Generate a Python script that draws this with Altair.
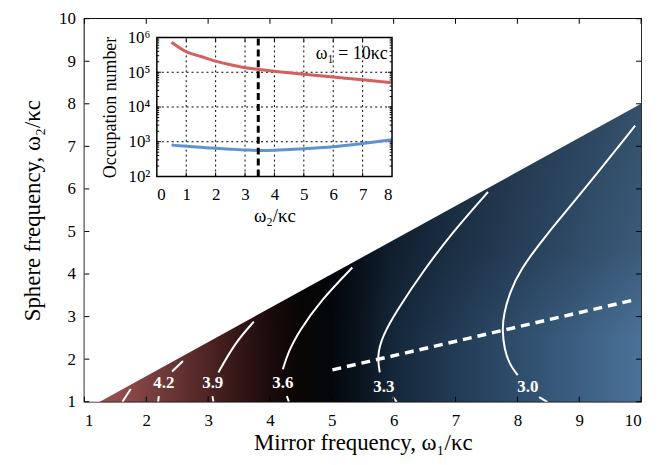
import altair as alt
import pandas as pd

FONT = "Liberation Serif"
W, H = 561, 386

# ---------------- main panel data ----------------
x_ticks = [1, 2, 3, 4, 5, 6, 7, 8, 9, 10]
y_ticks = [1, 2, 3, 4, 5, 6, 7, 8, 9, 10]

# edge of the coloured (allowed) region: omega2 = 0.8 omega1
edge_x = [1.0, 10.0]
edge_y = [0.8, 8.0]

# contour segments (white lines)
seg_names = ["4.5", "4.2a", "4.2b", "3.9a", "3.9b", "3.6a", "3.6b",
             "3.3a", "3.3b", "3.0a", "3.0b"]
seg_x = [
    [1.749, 1.615],
    [2.593, 2.417],
    [2.203, 2.192],
    [3.739, 3.433, 3.166],
    [3.070, 3.086],
    [5.332, 4.823, 4.475, 4.289, 4.209],
    [4.273, 4.305],
    [7.525, 6.963, 6.480, 6.054, 5.813, 5.733, 5.776],
    [5.990, 6.050],
    [9.904, 8.962, 8.470, 8.032, 7.872, 7.782, 7.754, 7.791, 7.872, 8.006],
    [8.353, 8.487],
]
seg_y = [
    [1.300, 1.000],
    [1.955, 1.710],
    [1.130, 1.000],
    [2.880, 2.381, 1.687],
    [1.130, 1.000],
    [4.153, 3.383, 2.670, 2.149, 1.763],
    [1.130, 1.000],
    [5.928, 5.002, 4.077, 3.151, 2.534, 2.071, 1.687],
    [1.108, 0.990],
    [7.485, 5.773, 4.930, 4.077, 3.538, 3.075, 2.689, 2.226, 1.879, 1.624],
    [1.108, 0.990],
]

label_text = ["4.2", "3.9", "3.6", "3.3", "3.0"]
label_x = [2.283, 3.075, 4.209, 5.840, 8.170]
label_y = [1.445, 1.445, 1.445, 1.350, 1.350]

# optimal sphere frequency (dashed white line)
opt_x = [5.01, 9.86]
opt_y = [1.747, 3.383]

# ---------------- inset data ----------------
w2 = [0.5, 1.0, 1.5, 2.0, 2.5, 3.0, 3.5, 4.0, 5.0, 6.0, 7.0, 8.0]
n_red = [7.3e5, 3.9e5, 2.85e5, 2.1e5, 1.65e5, 1.35e5, 1.2e5, 1.07e5,
         8.8e4, 7.3e4, 6.1e4, 5.0e4]
n_blue = [800, 740, 690, 645, 610, 580, 560, 568, 630, 720, 890, 1140]
w2_opt = 3.45
inset_xt = [0, 1, 2, 3, 4, 5, 6, 7, 8]
inset_yt = [1e2, 1e3, 1e4, 1e5, 1e6]
inset_text = "ω₁ = 10κc"

# ---------------- scales / axes ----------------
xs = alt.Scale(domain=[1, 10], nice=False, zero=False)
ys = alt.Scale(domain=[1, 10], nice=False, zero=False)

common_axis = dict(ticks=False, domain=False, grid=False, tickSize=0, zindex=1,
                   labelFont=FONT, titleFont=FONT, labelColor="black",
                   titleColor="black", titleFontWeight="normal")

x_axis = alt.Axis(orient="bottom", values=x_ticks, title="Mirror frequency, ω₁/κc",
                  labelFontSize=17, titleFontSize=23, labelPadding=11,
                  titlePadding=3, format="d", **common_axis)
y_axis = alt.Axis(orient="left", values=y_ticks, title="Sphere frequency, ω₂/κc",
                  labelFontSize=17, titleFontSize=23, labelPadding=9,
                  titlePadding=14, format="d", **common_axis)

# ---------------- main layers ----------------
bg_df = pd.DataFrame({"x": [1.0], "x2": [10.0], "y": [1.0], "y2": [8.1]})

h_stops = [(0.0, "#a05a57"), (0.022, "#9b5552"), (0.067, "#8e4c4a"),
           (0.111, "#7c4040"), (0.167, "#663333"), (0.222, "#4e2424"),
           (0.278, "#341616"), (0.333, "#1c0b0b"), (0.389, "#080505"),
           (0.444, "#03070b"), (0.5, "#0b1520"), (0.556, "#15273a"),
           (0.667, "#223b55"), (0.778, "#2f4d6c"), (0.889, "#3c5f82"),
           (1.0, "#4a7298")]
grad = alt.Chart(bg_df).mark_rect(
    color=alt.Gradient(gradient="linear",
                       stops=[alt.GradientStop(offset=o, color=c) for o, c in h_stops],
                       x1=0, x2=1, y1=0, y2=0)
).encode(
    x=alt.X("x:Q", scale=xs, axis=x_axis), x2="x2:Q",
    y=alt.Y("y:Q", scale=ys, axis=y_axis), y2="y2:Q",
)

v_stops = [(0.0, "rgba(0,0,0,0)"), (0.21, "rgba(0,0,0,0)"),
           (0.5, "rgba(0,0,0,0.2)"), (1.0, "rgba(0,0,0,0.3)")]
shade = alt.Chart(bg_df).mark_rect(
    color=alt.Gradient(gradient="linear",
                       stops=[alt.GradientStop(offset=o, color=c) for o, c in v_stops],
                       x1=0, x2=0, y1=1, y2=0)
).encode(
    x=alt.X("x:Q", scale=xs, axis=None), x2="x2:Q",
    y=alt.Y("y:Q", scale=ys, axis=None), y2="y2:Q",
)

edge_df = pd.DataFrame({"x": edge_x, "y": edge_y, "top": [10.0, 10.0]})
white = alt.Chart(edge_df).mark_area(color="white", clip=True).encode(
    x=alt.X("x:Q", scale=xs, axis=None),
    y=alt.Y("y:Q", scale=ys, axis=None), y2="top:Q",
)

rows = []
for name, xx, yy in zip(seg_names, seg_x, seg_y):
    for i, (a, b) in enumerate(zip(xx, yy)):
        rows.append({"seg": name, "o": i, "x": a, "y": b})
cont_df = pd.DataFrame(rows)
contours = alt.Chart(cont_df).mark_line(
    color="white", strokeWidth=2, interpolate="basis", clip=True
).encode(
    x=alt.X("x:Q", scale=xs, axis=None),
    y=alt.Y("y:Q", scale=ys, axis=None),
    detail="seg:N", order="o:Q",
)

opt_df = pd.DataFrame({"x": opt_x, "y": opt_y})
opt_line = alt.Chart(opt_df).mark_line(
    color="white", strokeWidth=3.5, strokeDash=[9, 6]
).encode(x=alt.X("x:Q", scale=xs, axis=None), y=alt.Y("y:Q", scale=ys, axis=None))

lab_df = pd.DataFrame({"x": label_x, "y": label_y, "t": label_text})
labels = alt.Chart(lab_df).mark_text(
    color="white", font=FONT, fontSize=17, fontWeight="bold"
).encode(x=alt.X("x:Q", scale=xs, axis=None), y=alt.Y("y:Q", scale=ys, axis=None), text="t:N")

tick_rows = []
for v in x_ticks:
    tick_rows.append({"x": v, "x2": v, "y": 1.0, "y2": 1.12})
    tick_rows.append({"x": v, "x2": v, "y": 10.0, "y2": 9.88})
for v in y_ticks:
    tick_rows.append({"x": 1.0, "x2": 1.08, "y": v, "y2": v})
    tick_rows.append({"x": 10.0, "x2": 9.92, "y": v, "y2": v})
ticks_main = alt.Chart(pd.DataFrame(tick_rows)).mark_rule(color="black", strokeWidth=1).encode(
    x=alt.X("x:Q", scale=xs, axis=None), x2="x2:Q",
    y=alt.Y("y:Q", scale=ys, axis=None), y2="y2:Q",
)

# ---------------- inset layers ----------------
IX0, IX1 = 73, 310
IY0, IY1 = 159, 19
xsi = alt.Scale(domain=[0, 8], range=[IX0, IX1], nice=False, zero=False)
ysi = alt.Scale(type="log", domain=[1e2, 1e6], range=[IY0, IY1], nice=False)

xi_axis = alt.Axis(orient="bottom", offset=-(H - IY0), values=inset_xt,
                   title="ω₂/κc", labelFontSize=17, titleFontSize=19,
                   labelPadding=10, titlePadding=4, format="d", **common_axis)
yi_axis = alt.Axis(orient="left", offset=-IX0, values=inset_yt,
                   title="Occupation number", labelFontSize=17, titleFontSize=18,
                   labelPadding=7, titlePadding=8,
                   labelExpr="datum.value < 500 ? '10²' : datum.value < 5000 ? '10³' : "
                             "datum.value < 50000 ? '10⁴' : datum.value < 500000 ? '10⁵' : '10⁶'",
                   **common_axis)

frame_df = pd.DataFrame({"x": [0.0], "x2": [8.0], "y": [1e2], "y2": [1e6]})
inset_bg = alt.Chart(frame_df).mark_rect(color="white").encode(
    x=alt.X("x:Q", scale=xsi, axis=xi_axis), x2="x2:Q",
    y=alt.Y("y:Q", scale=ysi, axis=yi_axis), y2="y2:Q",
)

grid_rows = []
for v in inset_xt[1:-1]:
    grid_rows.append({"x": v, "x2": v, "y": 1e2, "y2": 1e6})
for v in inset_yt[1:-1]:
    grid_rows.append({"x": 0.0, "x2": 8.0, "y": v, "y2": v})
inset_grid = alt.Chart(pd.DataFrame(grid_rows)).mark_rule(
    color="black", strokeWidth=1, strokeDash=[2, 3]
).encode(
    x=alt.X("x:Q", scale=xsi, axis=None), x2="x2:Q",
    y=alt.Y("y:Q", scale=ysi, axis=None), y2="y2:Q",
)

itick_rows = []
for v in inset_xt[1:-1]:
    itick_rows.append({"x": v, "x2": v, "y": 1e2, "y2": 1.3e2})
    itick_rows.append({"x": v, "x2": v, "y": 1e6, "y2": 1e6 / 1.3})
for d in [1e2, 1e3, 1e4, 1e5]:
    for m in [1, 2, 3, 4, 5, 6, 7, 8, 9]:
        v = d * m
        if m == 1 and d == 1e2:
            continue
        ln = 0.14 if m == 1 else 0.08
        itick_rows.append({"x": 0.0, "x2": ln, "y": v, "y2": v})
        itick_rows.append({"x": 8.0, "x2": 8.0 - ln, "y": v, "y2": v})
inset_ticks = alt.Chart(pd.DataFrame(itick_rows)).mark_rule(color="black", strokeWidth=1).encode(
    x=alt.X("x:Q", scale=xsi, axis=None), x2="x2:Q",
    y=alt.Y("y:Q", scale=ysi, axis=None), y2="y2:Q",
)

curve_df = pd.DataFrame({"w2": w2 + w2,
                         "n": n_red + n_blue,
                         "s": ["red"] * len(w2) + ["blue"] * len(w2)})
inset_curves = alt.Chart(curve_df).mark_line(strokeWidth=3, interpolate="monotone").encode(
    x=alt.X("w2:Q", scale=xsi, axis=None),
    y=alt.Y("n:Q", scale=ysi, axis=None),
    color=alt.Color("s:N", scale=alt.Scale(domain=["red", "blue"],
                                           range=["#d35f5f", "#5e93d2"]), legend=None),
)

vl_df = pd.DataFrame({"x": [w2_opt], "y": [1e2], "y2": [1e6]})
inset_vline = alt.Chart(vl_df).mark_rule(color="black", strokeWidth=3, strokeDash=[7, 4]).encode(
    x=alt.X("x:Q", scale=xsi, axis=None),
    y=alt.Y("y:Q", scale=ysi, axis=None), y2="y2:Q",
)

txt_df = pd.DataFrame({"x": [7.85], "y": [3.4e5], "t": [inset_text]})
inset_txt = alt.Chart(txt_df).mark_text(
    align="right", font=FONT, fontSize=18, color="black"
).encode(x=alt.X("x:Q", scale=xsi, axis=None), y=alt.Y("y:Q", scale=ysi, axis=None), text="t:N")

inset_frame = alt.Chart(frame_df).mark_rect(filled=False, color="black", strokeWidth=1.5).encode(
    x=alt.X("x:Q", scale=xsi, axis=None), x2="x2:Q",
    y=alt.Y("y:Q", scale=ysi, axis=None), y2="y2:Q",
)

chart = alt.layer(
    grad, shade, white, contours, opt_line, labels, ticks_main,
    inset_bg, inset_grid, inset_ticks, inset_curves, inset_vline, inset_txt, inset_frame,
).resolve_scale(
    x="independent", y="independent", color="independent"
).properties(
    width=W, height=H,
    autosize=alt.AutoSizeParams(type="none"),
    padding={"left": 77, "top": 9, "right": 10, "bottom": 58},
).configure_view(stroke="black", strokeWidth=1.5)

chart.save("out.html", embed_options={"renderer": "svg", "actions": False})
